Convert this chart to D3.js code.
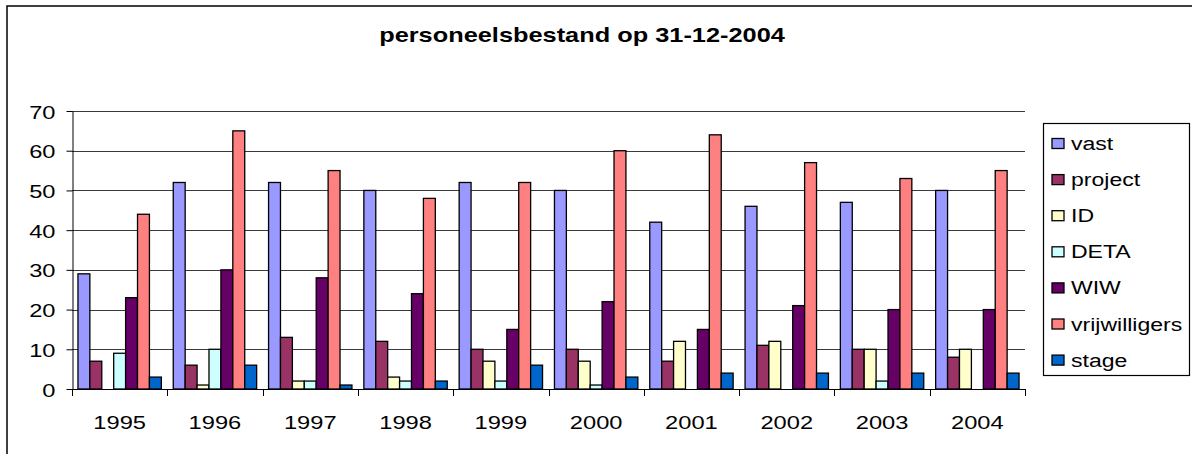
<!DOCTYPE html>
<html>
<head>
<meta charset="utf-8">
<script src="https://cdn.jsdelivr.net/npm/d3@7"></script>
<style>
  body { margin: 0; background: #fff; }
  text { font-family: "Liberation Sans", Arial, sans-serif; fill: #000; }
</style>
</head>
<body>
<div id="chart-area"></div>
<script>
// data
const years = ["1995", "1996", "1997", "1998", "1999", "2000", "2001", "2002", "2003", "2004"]
const seriesNames = ["vast", "project", "ID", "DETA", "WIW", "vrijwilligers", "stage"]
const vast = [29, 52, 52, 50, 52, 50, 42, 46, 47, 50]
const project = [7, 6, 13, 12, 10, 10, 7, 11, 10, 8]
const idValues = [0, 1, 2, 3, 7, 7, 12, 12, 10, 10]
const deta = [9, 10, 2, 2, 2, 1, 0, 0, 2, 0]
const wiw = [23, 30, 28, 24, 15, 22, 15, 21, 20, 20]
const vrijwilligers = [44, 65, 55, 48, 52, 60, 64, 57, 53, 55]
const stage = [3, 6, 1, 2, 6, 3, 4, 4, 4, 4]
const yTicks = [0, 10, 20, 30, 40, 50, 60, 70]
const colors = ["#9999FF", "#993366", "#FFFFCC", "#CCFFFF", "#660066", "#FF8080", "#0066CC"]

const seriesValues = [vast, project, idValues, deta, wiw, vrijwilligers, stage]

// afmetingen
const W = 1192, H = 454
const PLOT = { LEFT: 72, RIGHT: 1025, TOP: 111, BOTTOM: 389 }
const SX = 1.28 // tekst is horizontaal uitgerekt in het origineel

const svg = d3.select("#chart-area").append("svg")
  .attr("width", W)
  .attr("height", H)

// kader rond de grafiek
svg.append("rect")
  .attr("x", 7).attr("y", 6)
  .attr("width", W + 20).attr("height", H + 20)
  .attr("fill", "none")
  .attr("stroke", "#000")
  .attr("stroke-width", 1.5)

// titel
svg.append("text")
  .attr("transform", `translate(582,42) scale(${1.3},1)`)
  .attr("text-anchor", "middle")
  .attr("font-size", "19.5px")
  .attr("font-weight", "bold")
  .text("personeelsbestand op 31-12-2004")

// schalen
const x0 = d3.scaleBand()
  .domain(years)
  .range([PLOT.LEFT, PLOT.RIGHT])
  .paddingInner(0.125)
  .paddingOuter(0.0625)

const x1 = d3.scaleBand()
  .domain(seriesNames)
  .range([0, x0.bandwidth()])

const y = d3.scaleLinear()
  .domain([0, 70])
  .range([PLOT.BOTTOM, PLOT.TOP])

// rasterlijnen
svg.append("g")
  .selectAll("line")
  .data(yTicks.filter(d => d > 0))
  .enter().append("line")
  .attr("x1", PLOT.LEFT).attr("x2", PLOT.RIGHT)
  .attr("y1", d => Math.round(y(d)) + 0.5)
  .attr("y2", d => Math.round(y(d)) + 0.5)
  .attr("stroke", "#3a3a3a")
  .attr("stroke-width", 1)

// y-as
const yAxis = svg.append("g")
  .attr("transform", `translate(${PLOT.LEFT + 0.5},0)`)
  .call(d3.axisLeft(y).tickValues(yTicks).tickSize(6).tickSizeOuter(0).tickPadding(0))
yAxis.select(".domain").attr("stroke", "#000")
yAxis.selectAll(".tick line").attr("stroke", "#000")
yAxis.selectAll(".tick text").remove()
yAxis.selectAll(".tick").append("text")
  .attr("transform", `translate(-17,7) scale(${SX},1)`)
  .attr("text-anchor", "end")
  .attr("font-size", "18.5px")
  .text(d => d)

// staven
const groups = svg.append("g")
  .selectAll("g")
  .data(years)
  .enter().append("g")
  .attr("transform", d => `translate(${x0(d)},0)`)

groups.selectAll("rect")
  .data((d, i) => seriesNames.map((s, j) => ({ s, j, v: seriesValues[j][i] })))
  .enter().append("rect")
  .attr("x", d => x1(d.s))
  .attr("y", d => y(d.v))
  .attr("width", x1.bandwidth())
  .attr("height", d => y(0) - y(d.v))
  .attr("fill", d => colors[d.j])
  .attr("stroke", "#000")
  .attr("stroke-width", 1.3)

// x-as
const step = x0.step()
const bounds = d3.range(years.length + 1).map(i => PLOT.LEFT + i * step)
svg.append("line")
  .attr("x1", PLOT.LEFT).attr("x2", PLOT.RIGHT)
  .attr("y1", PLOT.BOTTOM + 0.5).attr("y2", PLOT.BOTTOM + 0.5)
  .attr("stroke", "#000")
svg.append("g")
  .selectAll("line")
  .data(bounds)
  .enter().append("line")
  .attr("x1", d => Math.round(d) + 0.5).attr("x2", d => Math.round(d) + 0.5)
  .attr("y1", PLOT.BOTTOM).attr("y2", PLOT.BOTTOM + 7)
  .attr("stroke", "#000")

svg.append("g")
  .selectAll("text")
  .data(years)
  .enter().append("text")
  .attr("transform", d => `translate(${x0(d) + x0.bandwidth() / 2},429) scale(${SX},1)`)
  .attr("text-anchor", "middle")
  .attr("font-size", "18.5px")
  .text(d => d)

// legenda
const legend = svg.append("g")
legend.append("rect")
  .attr("x", 1043.5).attr("y", 123.5)
  .attr("width", 146).attr("height", 252)
  .attr("fill", "#fff")
  .attr("stroke", "#000")
  .attr("stroke-width", 1.2)

const items = legend.selectAll("g.item")
  .data(seriesNames)
  .enter().append("g")
  .attr("class", "item")
  .attr("transform", (d, i) => `translate(0,${143.5 + i * 36.1})`)

items.append("rect")
  .attr("x", 1052).attr("y", -5)
  .attr("width", 12).attr("height", 10)
  .attr("fill", (d, i) => colors[i])
  .attr("stroke", "#000")
  .attr("stroke-width", 1.3)

items.append("text")
  .attr("transform", `translate(1071,6.5) scale(${SX},1)`)
  .attr("font-size", "18px")
  .text(d => d)
</script>
</body>
</html>
